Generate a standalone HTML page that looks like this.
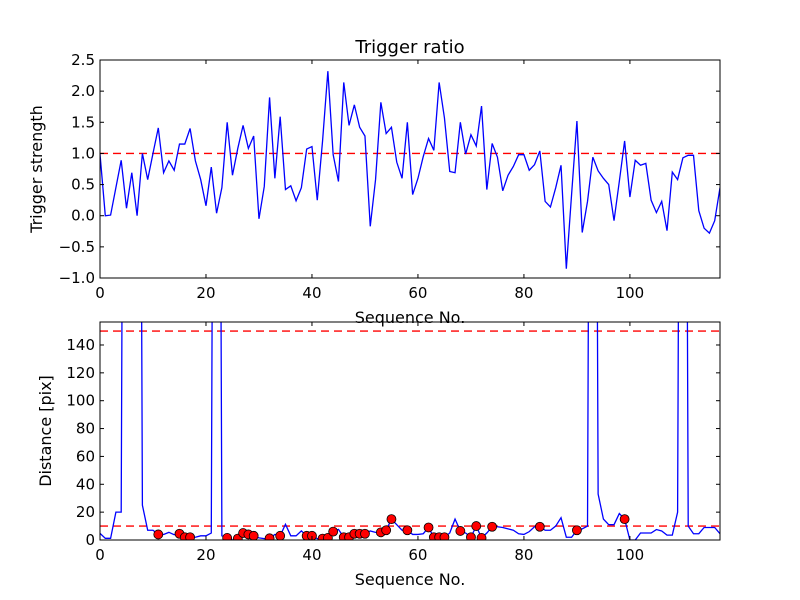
<!DOCTYPE html>
<html><head><meta charset="utf-8"><style>
body{margin:0;background:#fff;}
svg{display:block;font-family:"DejaVu Sans","Liberation Sans",sans-serif;}
</style></head><body>
<svg id="chart" width="800" height="600" viewBox="0 0 800 600">
<rect width="800" height="600" fill="#fff"/>
<defs>
<clipPath id="c1"><rect x="100" y="60" width="620" height="218"/></clipPath>
<clipPath id="c2"><rect x="100" y="322" width="620" height="218"/></clipPath>
</defs>
<g id="g"></g>
</svg>
<script>
const strength=[0.99,0.0,0.01,0.45,0.89,0.12,0.69,0.0,1.0,0.58,1.0,1.41,0.69,0.88,0.73,1.15,1.15,1.4,0.88,0.58,0.16,0.78,0.04,0.45,1.5,0.65,1.08,1.45,1.08,1.28,-0.05,0.47,1.9,0.6,1.59,0.42,0.48,0.24,0.45,1.07,1.11,0.25,1.2,2.32,0.98,0.55,2.14,1.45,1.78,1.42,1.28,-0.17,0.58,1.82,1.32,1.42,0.86,0.6,1.5,0.34,0.6,0.95,1.24,1.05,2.14,1.57,0.71,0.69,1.5,0.99,1.3,1.12,1.76,0.42,1.16,0.94,0.4,0.65,0.79,0.98,0.98,0.73,0.82,1.04,0.23,0.14,0.45,0.81,-0.85,0.35,1.52,-0.27,0.23,0.94,0.72,0.6,0.5,-0.08,0.55,1.2,0.3,0.89,0.81,0.84,0.25,0.05,0.23,-0.24,0.7,0.58,0.93,0.97,0.97,0.08,-0.2,-0.28,-0.08,0.45];
const distance=[4.8,1.2,1.2,20,20,1000,1000,1000,25,7,7,4,4,5.5,3.8,4.5,2,2,2,3,3,5,1000,3,1.5,0,1,5,4,3,1.5,1,1.2,4,3,11.3,3,3,6.5,3,3,1,1,1.5,6,7.6,2,2,4.5,4.5,4.5,6.5,5.5,5.5,7,15,11,7,7,4,4,4.5,9,2,2,2,5,15,6.5,5,2,10,1.5,5,9.5,9.5,9,8,7,4.5,4,6,9.5,9.5,7,7,10,16,2,2,7,8,10,1000,33,15,11,11,19,15,0,0,5,5,5,7.5,6.5,3.5,3.5,20,1000,10,4.5,4.5,9,9,9,4.5];
const dotIdx=[11,15,16,17,24,26,27,28,29,32,34,39,40,42,43,44,46,47,48,49,50,53,54,55,58,62,63,64,65,68,70,71,72,74,83,90,99];
const xTicks=[0,20,40,60,80,100];
const y1Ticks=[-1,-0.5,0,0.5,1,1.5,2,2.5];
const y2Ticks=[0,20,40,60,80,100,120,140];
const X0=100,X1=720,XMAX=117;
const sx=v=>X0+v/XMAX*(X1-X0);
const sy1=v=>278-(v+1)/3.5*218;
const sy2=v=>540-v/156.5*218;
const NS="http://www.w3.org/2000/svg";
const g=document.getElementById('g');
function mk(t,a,p){const e=document.createElementNS(NS,t);for(const k in a)e.setAttribute(k,a[k]);(p||g).appendChild(e);return e;}
function fmt1(v){return (v<0?'\u2212':'')+Math.abs(v).toFixed(1);}
function axes(top,bot,sy,yt,fmtY,ylab,name,ylx){
  const t=mk('text',{x:410,y:bot+45,'font-size':16,'text-anchor':'middle'});
  
  
  t.textContent='Sequence No.';
  xTicks.forEach(v=>{const x=sx(v);
    mk('line',{x1:x,x2:x,y1:bot,y2:bot-4,stroke:'#000'});
    mk('line',{x1:x,x2:x,y1:top,y2:top+4,stroke:'#000'});
    const l=mk('text',{x:x,y:bot+20,'font-size':15,'text-anchor':'middle'});
    
    
    l.textContent=v;});
  yt.forEach(v=>{const y=sy(v);
    mk('line',{x1:X0,x2:X0+4,y1:y,y2:y,stroke:'#000'});
    mk('line',{x1:X1,x2:X1-4,y1:y,y2:y,stroke:'#000'});
    const l=mk('text',{x:X0-5,y:y+5,'font-size':15,'text-anchor':'end'});
    
    
    l.textContent=fmtY(v);});
  const yl=mk('text',{x:0,y:0,'font-size':16,'text-anchor':'middle',transform:`translate(${ylx},${(top+bot)/2}) rotate(-90)`});
  
  
  yl.textContent=ylab;
}
const ref1=mk('line',{x1:X0,x2:X1,y1:sy1(1),y2:sy1(1),stroke:'#f00','stroke-dasharray':'8,5','stroke-width':1.4});


const p1=mk('polyline',{points:strength.map((v,i)=>sx(i)+','+sy1(v)).join(' '),fill:'none',stroke:'#00f','stroke-width':1.3,'clip-path':'url(#c1)'});


const f1=mk('rect',{x:X0,y:60,width:620,height:218,fill:'none',stroke:'#000'});


axes(60,278,sy1,y1Ticks,fmt1,'Trigger strength','top',42);
const ti=mk('text',{x:410,y:53,'font-size':18,'text-anchor':'middle'});


ti.textContent='Trigger ratio';
[10,150].forEach(v=>{const l=mk('line',{x1:X0,x2:X1,y1:sy2(v),y2:sy2(v),stroke:'#f00','stroke-dasharray':'8,5','stroke-width':1.4});
  
  });
const cg=mk('g',{'clip-path':'url(#c2)'});
const p2=mk('polyline',{points:distance.map((v,i)=>sx(i)+','+sy2(v)).join(' '),fill:'none',stroke:'#00f','stroke-width':1.3},cg);


dotIdx.forEach(i=>{const c=mk('circle',{cx:sx(i),cy:sy2(distance[i]),r:4.5,fill:'#f00',stroke:'#000','stroke-width':0.8},cg);
  
  });
const f2=mk('rect',{x:X0,y:322,width:620,height:218,fill:'none',stroke:'#000'});


axes(322,540,sy2,y2Ticks,v=>String(v),'Distance [pix]','bottom',51);
</script>
</body></html>
